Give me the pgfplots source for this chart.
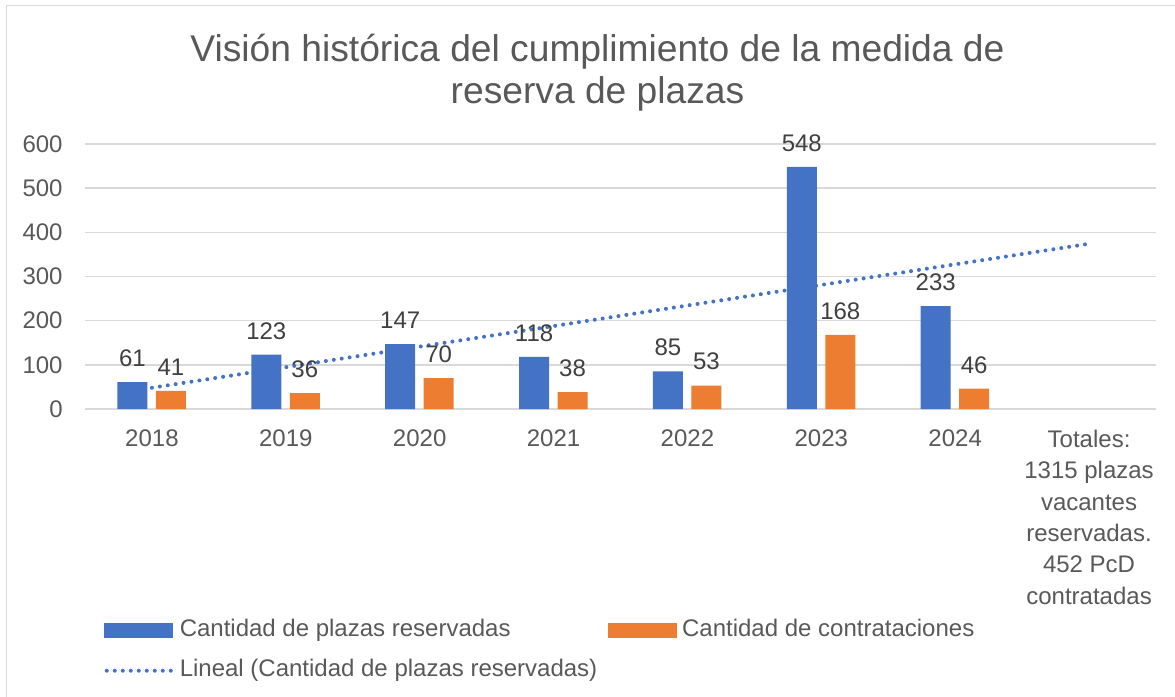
\documentclass[border=0pt]{standalone}
\usepackage{fontspec}
\setmainfont{Liberation Sans}
\usepackage{pgfplots}
\pgfplotsset{compat=1.18}
\definecolor{cblue}{HTML}{4472C4}
\definecolor{corange}{HTML}{ED7D31}
\definecolor{txt}{HTML}{595959}
\definecolor{lbl}{HTML}{404040}
\definecolor{gridc}{HTML}{D9D9D9}
\begin{document}
\begin{tikzpicture}
\useasboundingbox (0pt,0pt) rectangle (587.5pt,348.5pt);
\fill[white] (0pt,0pt) rectangle (587.5pt,348.5pt);
\draw[gridc, line width=0.75pt] (3.25pt,-5pt) -- (3.25pt,345.75pt) -- (600pt,345.75pt);
\node[txt, align=center, font=\fontsize{18.6}{21}\selectfont] at (298.75pt,312pt) {Visión histórica del cumplimiento de la medida de\\reserva de plazas};
\begin{axis}[
  at={(42.5pt,144pt)}, anchor=south west,
  scale only axis, width=535.5pt, height=132.5pt,
  xmin=0.5, xmax=8.5, ymin=0, ymax=600,
  xtick={1,...,8}, ytick={0,100,...,600},
  xticklabels={2018,2019,2020,2021,2022,2023,2024,{Totales:\\1315 plazas\\vacantes\\reservadas.\\452 PcD\\contratadas}},
  axis line style={draw=none},
  major tick length=0pt,
  ymajorgrids, grid style={gridc, line width=0.75pt},
  tick label style={txt, font=\fontsize{12}{15.7}\selectfont},
  /pgf/number format/assume math mode=true,
  yticklabel style={anchor=east, inner sep=0pt, xshift=-11pt},
  xticklabel style={anchor=north, inner sep=0pt, yshift=-10.25pt, align=center},
  every node near coord/.append style={lbl, font=\fontsize{12}{14}\selectfont, inner sep=0pt, yshift=7.5pt},
  legend columns=2,
  legend cell align=left,
  legend style={at={(axis description cs:0.0177,-0.79)}, anchor=north west, draw=none, fill=none, inner sep=0pt,
    font=\fontsize{12}{14}\selectfont, text=txt,
    nodes={inner sep=0pt, text height=9pt, text depth=3pt},
    /tikz/every odd column/.style={column sep=2.5pt},
    /tikz/every even column/.style={column sep=5.5pt},
    row sep=8pt},
]
\addplot[cblue, line width=2pt, line cap=round, dash pattern=on 0pt off 4pt, forget plot] coordinates {(1,48.1) (8,374.1)};
\addplot[ybar, bar width=15pt, bar shift=-9.75pt, fill=cblue, draw=none, nodes near coords,
  every node near coord/.append style={xshift=-9.75pt}, forget plot]
  coordinates {(1,61) (2,123) (3,147) (4,118) (5,85) (6,548) (7,233)};
\addplot[ybar, bar width=15pt, bar shift=9.5pt, fill=corange, draw=none, nodes near coords,
  every node near coord/.append style={xshift=9.5pt}, forget plot]
  coordinates {(1,41) (2,36) (3,70) (4,38) (5,53) (6,168) (7,46)};
\addlegendimage{legend image code/.code={\fill[cblue] (0pt,-3.5pt) rectangle (34pt,3.5pt);}}
\addlegendentry{Cantidad de plazas reservadas}
\addlegendimage{legend image code/.code={\fill[corange] (0pt,-3.5pt) rectangle (34pt,3.5pt);}}
\addlegendentry{Cantidad de contrataciones}
\addlegendimage{legend image code/.code={\draw[cblue, line width=2pt, line cap=round, dash pattern=on 0pt off 4pt] (1pt,0pt) -- (34pt,0pt);}}
\addlegendentry{Lineal (Cantidad de plazas reservadas)}
\end{axis}
\end{tikzpicture}
\end{document}
